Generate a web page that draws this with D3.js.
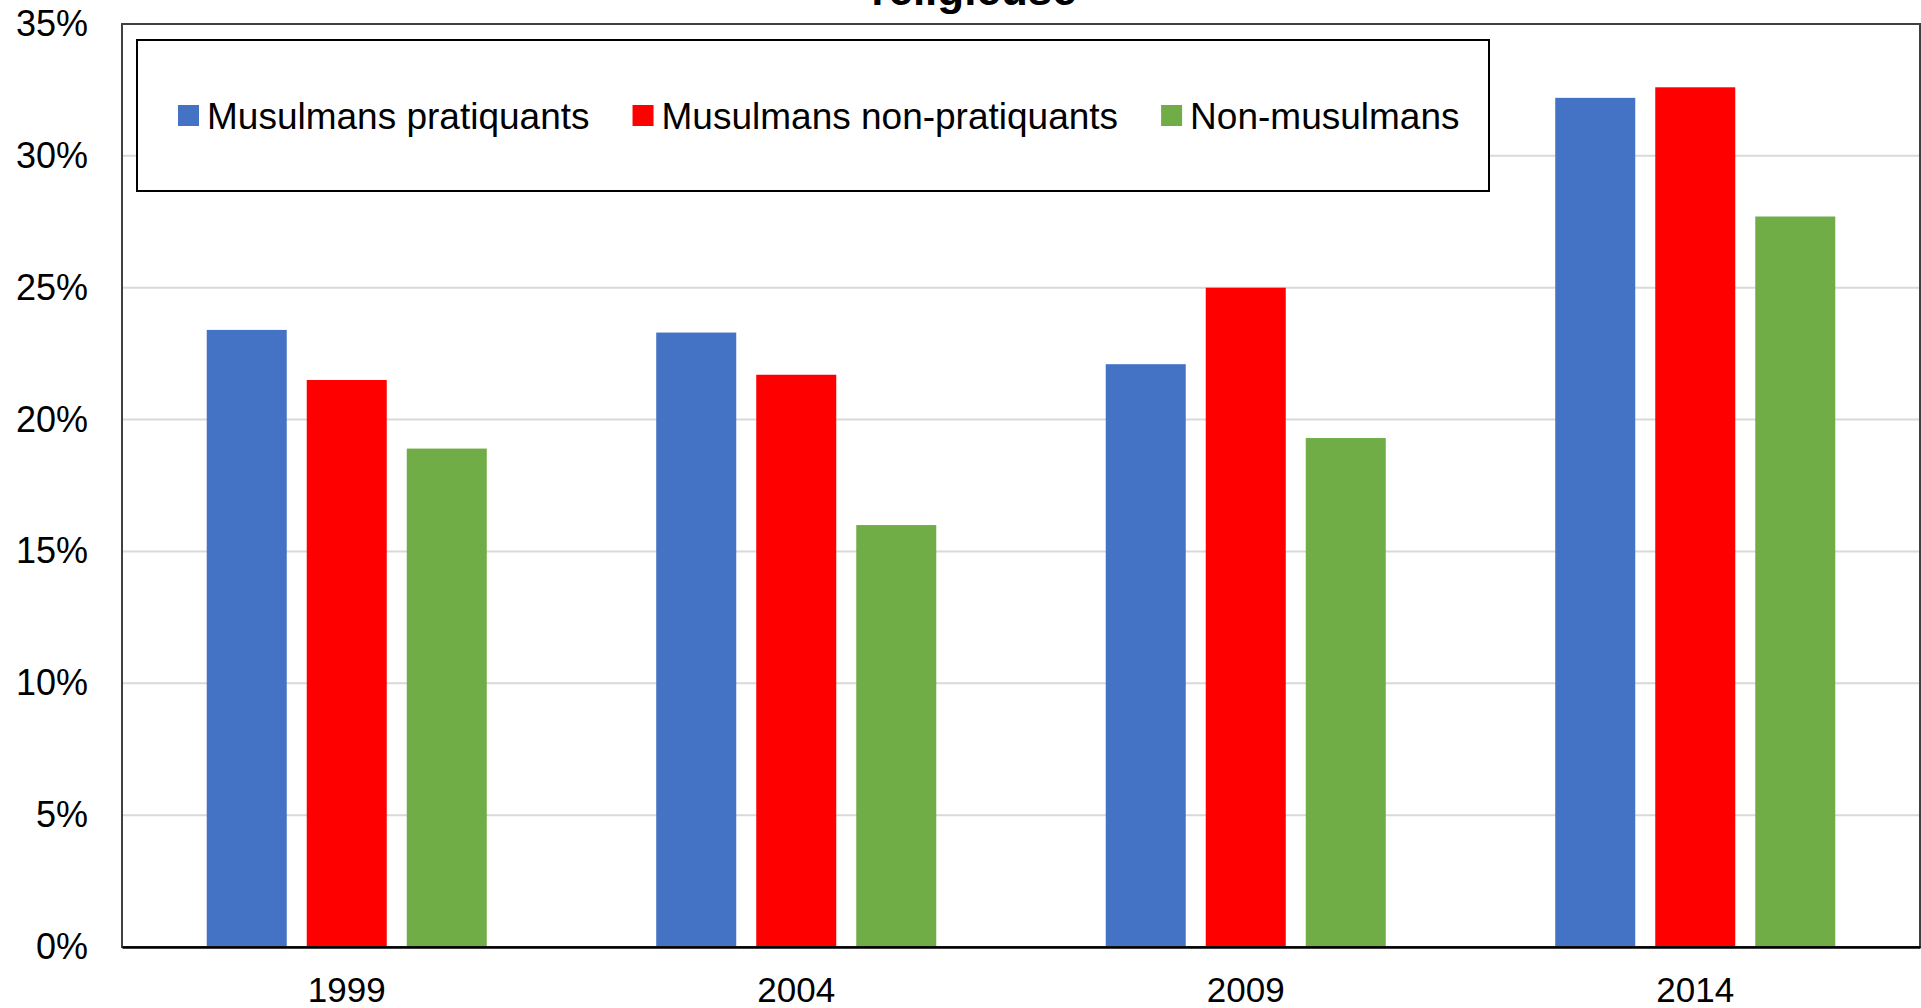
<!DOCTYPE html>
<html>
<head>
<meta charset="utf-8">
<script src="https://cdn.jsdelivr.net/npm/d3@7"></script>
<style>
  html, body { margin: 0; padding: 0; background: #fff; }
  svg { display: block; }
  text { font-family: "Liberation Sans", Arial, sans-serif; fill: #000; }
</style>
</head>
<body>
<svg id="chart" width="1921" height="1008"></svg>
<script>
// ---- data ----
const categories = ["1999", "2004", "2009", "2014"];
const seriesNames = ["Musulmans pratiquants", "Musulmans non-pratiquants", "Non-musulmans"];
const seriesColors = ["#4472C4", "#FF0000", "#70AD47"];
const pratiquants    = [0.234, 0.233, 0.221, 0.322];
const nonPratiquants = [0.215, 0.217, 0.250, 0.326];
const nonMusulmans   = [0.189, 0.160, 0.193, 0.277];
const yTicks = [0, 0.05, 0.10, 0.15, 0.20, 0.25, 0.30, 0.35];
const titleText = "religieuse";

const seriesValues = [pratiquants, nonPratiquants, nonMusulmans];

// ---- layout ----
const svg = d3.select("#chart");
const plot = { left: 122, right: 1920, top: 24, bottom: 947 };

const x0 = d3.scaleBand()
  .domain(categories)
  .range([plot.left, plot.right])
  .paddingInner(0.377)
  .paddingOuter(0.1885);

const x1 = d3.scaleBand()
  .domain(d3.range(seriesNames.length))
  .range([0, x0.bandwidth()])
  .paddingInner(0.2)
  .paddingOuter(0);

const y = d3.scaleLinear().domain([0, 0.35]).range([plot.bottom, plot.top]);

// gridlines
svg.append("g")
  .selectAll("line")
  .data(yTicks.filter(d => d > 0))
  .join("line")
  .attr("x1", plot.left).attr("x2", plot.right)
  .attr("y1", d => y(d)).attr("y2", d => y(d))
  .attr("stroke", "#d9d9d9")
  .attr("stroke-width", 2);

// y axis labels
const yAxis = d3.axisLeft(y).tickValues(yTicks).tickFormat(d3.format(".0%")).tickSize(0).tickPadding(34);
const gy = svg.append("g").attr("transform", `translate(${plot.left},0)`).call(yAxis);
gy.select(".domain").remove();
gy.selectAll("text")
  .style("font-family", '"Liberation Sans", Arial, sans-serif')
  .style("font-size", "36px")
  .attr("fill", "#000");

// bars
const rows = categories.map((c, i) => ({ cat: c, vals: seriesValues.map(s => s[i]) }));
svg.append("g")
  .selectAll("g")
  .data(rows)
  .join("g")
  .attr("transform", d => `translate(${x0(d.cat)},0)`)
  .selectAll("rect")
  .data(d => d.vals.map((v, k) => ({ v, k })))
  .join("rect")
  .attr("x", d => x1(d.k))
  .attr("width", x1.bandwidth())
  .attr("y", d => y(d.v))
  .attr("height", d => y(0) - y(d.v))
  .attr("fill", d => seriesColors[d.k]);

// plot border
svg.append("rect")
  .attr("x", plot.left).attr("y", plot.top)
  .attr("width", plot.right - plot.left).attr("height", plot.bottom - plot.top)
  .attr("fill", "none")
  .attr("stroke", "#404040")
  .attr("stroke-width", 2);

// x axis
const xAxis = d3.axisBottom(x0).tickSize(0).tickPadding(30);
const gx = svg.append("g").attr("transform", `translate(0,${plot.bottom})`).call(xAxis);
gx.select(".domain").attr("stroke", "#000").attr("stroke-width", 2.5);
gx.selectAll("text")
  .style("font-family", '"Liberation Sans", Arial, sans-serif')
  .style("font-size", "35px")
  .attr("fill", "#000");

// title
svg.append("text")
  .attr("x", 974).attr("y", 5)
  .attr("text-anchor", "middle")
  .style("font-size", "44px")
  .style("font-weight", "bold")
  .text(titleText);

// legend
const legend = svg.append("g");
legend.append("rect")
  .attr("x", 137).attr("y", 40)
  .attr("width", 1352).attr("height", 151)
  .attr("fill", "#fff")
  .attr("stroke", "#000")
  .attr("stroke-width", 2);

let lx = 178;
seriesNames.forEach((name, k) => {
  legend.append("rect")
    .attr("x", lx).attr("y", 105)
    .attr("width", 21).attr("height", 21)
    .attr("fill", seriesColors[k]);
  const t = legend.append("text")
    .attr("x", lx + 29).attr("y", 128.5)
    .style("font-size", "37px")
    .text(name);
  lx = lx + 29 + t.node().getComputedTextLength() + 43;
});
</script>
</body>
</html>
